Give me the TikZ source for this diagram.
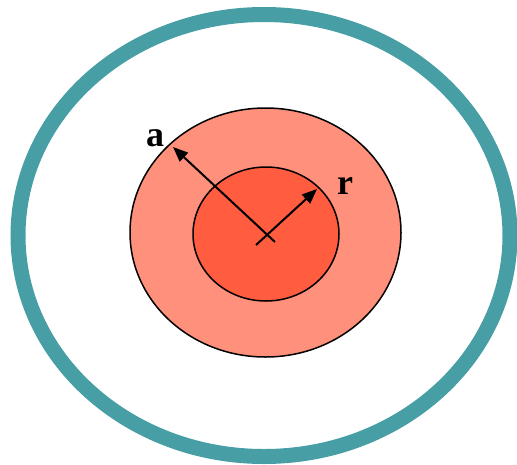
\documentclass[tikz,border=0pt]{standalone}
\usepackage{fontspec}
\setmainfont{Liberation Serif}
\usetikzlibrary{arrows.meta}
\definecolor{rimteal}{HTML}{489EA5}
\definecolor{shellred}{HTML}{FF907B}
\definecolor{corered}{HTML}{FF5C40}
\tikzset{
  rim/.style={line width=15pt, rimteal},
  shell/.style={fill=shellred, draw=black, line width=1.5pt},
  core/.style={fill=corered, draw=black, line width=1.5pt},
  rad/.style={-{Triangle[length=15pt,width=12pt]}, line width=2pt},
  lbl/.style={font=\fontsize{36}{36}\selectfont\bfseries},
}

\begin{document}
\begin{tikzpicture}[x=1pt,y=-1pt]
  \useasboundingbox (0,0) rectangle (517,464);
  \draw[rim] (264,235.5) ellipse [x radius=246, y radius=221];
  \draw[shell] (265.5,232.5) ellipse [x radius=135.5, y radius=124.5];
  \draw[core] (266,234) ellipse [x radius=73, y radius=67];
  % radius arrows
  \coordinate (atail) at (275,242);
  \coordinate (atip) at (173,147);
  \coordinate (rtail) at (256,245);
  \coordinate (rtip) at (317,189);
  \draw[rad] (atail) -- (atip);
  \draw[rad] (rtail) -- (rtip);
  \node[lbl] (alab) at (155,138) {a};
  \node[lbl] (rlab) at (345,186) {r};
\end{tikzpicture}
\end{document}
